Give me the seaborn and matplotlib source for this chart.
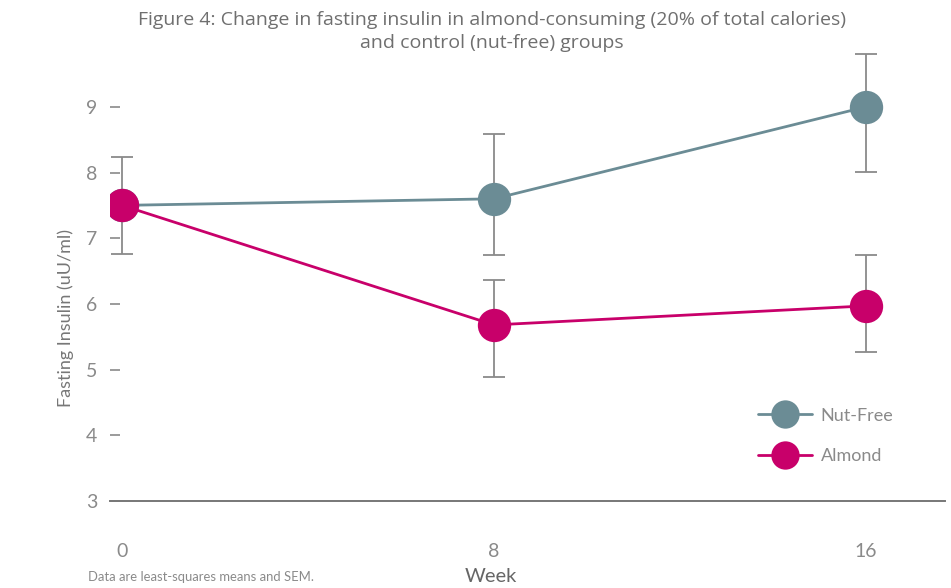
import matplotlib
matplotlib.use("Agg")
import matplotlib.pyplot as plt
import seaborn as sns
import pandas as pd

# values
weeks = [0, 8, 16]
nutfree_mean = [7.5, 7.6, 9.0]
nutfree_low = [6.76, 6.74, 8.01]
nutfree_high = [8.24, 8.59, 9.80]
almond_mean = [7.5, 5.68, 5.97]
almond_low = [7.5, 4.89, 5.27]
almond_high = [7.5, 6.37, 6.75]

groups = ["Nut-Free", "Almond"]
colors = {"Nut-Free": "#6b8c95", "Almond": "#c8006a"}
grey = "#8a8a8a"

df = pd.DataFrame({
    "Week": weeks * 2,
    "Insulin": nutfree_mean + almond_mean,
    "Group": ["Nut-Free"] * 3 + ["Almond"] * 3,
})

sns.set_style("white")
plt.rcParams["font.family"] = ["Lato", "DejaVu Sans"]

fig = plt.figure(figsize=(9.51, 5.88), dpi=100)
ax = fig.add_axes([0.1157, 0.148, 0.878, 0.782])

# error bars (SEM) behind the markers
for mean, lo, hi in [(nutfree_mean, nutfree_low, nutfree_high),
                     (almond_mean, almond_low, almond_high)]:
    idx = [i for i in range(3) if hi[i] > lo[i]]
    ax.errorbar([weeks[i] for i in idx], [mean[i] for i in idx],
                yerr=[[mean[i] - lo[i] for i in idx], [hi[i] - mean[i] for i in idx]],
                fmt="none", ecolor=grey, elinewidth=1.3, capsize=8, capthick=1.3, zorder=1)

sns.lineplot(data=df, x="Week", y="Insulin", hue="Group", hue_order=groups,
             palette=colors, marker="o", markersize=24, markeredgewidth=0,
             linewidth=2, ax=ax, zorder=3)

ax.set_xlim(-0.26, 17.7)
ax.set_ylim(3, 10)
ax.set_xticks(weeks)
ax.set_yticks(range(3, 10))
ax.tick_params(axis="x", bottom=False, length=0, pad=30, labelsize=14, labelcolor=grey)
ax.tick_params(axis="y", left=True, direction="in", length=7, width=1.2, color=grey,
               pad=9, labelsize=14, labelcolor=grey)

for s in ["top", "right", "left"]:
    ax.spines[s].set_visible(False)
ax.spines["bottom"].set_color("#777777")
ax.spines["bottom"].set_linewidth(1.4)
ax.set_xlabel("")
ax.set_ylabel("")

leg = ax.legend(loc="lower left", bbox_to_anchor=(0.756, 0.045), frameon=False,
                fontsize=13, labelspacing=1.35, handlelength=3.0, handletextpad=0.5,
                markerscale=0.85)
for t in leg.get_texts():
    t.set_color(grey)

title_font = ["Open Sans", "DejaVu Sans"]
fig.text(492 / 951, 1 - 20 / 588,
         "Figure 4: Change in fasting insulin in almond-consuming (20% of total calories)",
         ha="center", va="center", fontsize=14, color="#6f6f6f", family=title_font)
fig.text(492 / 951, 1 - 43 / 588, "and control (nut-free) groups",
         ha="center", va="center", fontsize=14, color="#6f6f6f", family=title_font)
fig.text(66 / 951, 1 - 318 / 588, "Fasting Insulin (uU/ml)", rotation=90,
         ha="center", va="center", fontsize=13, color="#777777")
fig.text(491 / 951, 1 - 577 / 588, "Week", ha="center", va="center",
         fontsize=14.5, color="#666666")
fig.text(88 / 951, 1 - 577 / 588, "Data are least-squares means and SEM.",
         ha="left", va="center", fontsize=9.4, color=grey)

fig.savefig("out.png", dpi=100)
